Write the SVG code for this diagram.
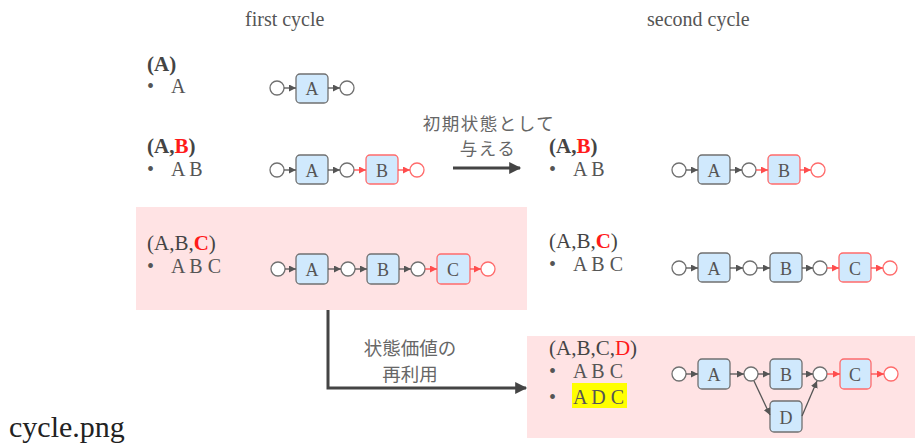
<svg xmlns="http://www.w3.org/2000/svg" width="915" height="443" viewBox="0 0 915 443">
  <style>
    .title { font-family: "Liberation Serif", serif; font-size: 20px; fill: #555; }
    .head { font-family: "Liberation Serif", serif; font-size: 21px; fill: #444; }
    .bold { font-weight: bold; }
    .red { fill: #ff1a1a; }
    .item { font-family: "Liberation Serif", serif; font-size: 20px; fill: #555; }
    .jp { font-family: "Noto Sans CJK JP", sans-serif; font-size: 18.5px; fill: #666; }
    .jp.tight { font-size: 17.5px; letter-spacing: 1.5px; }
    .file { font-family: "Liberation Serif", serif; font-size: 30px; fill: #222; }
    .box { fill: #d0e9fd; stroke: #707070; stroke-width: 1.3; }
    .box.new { stroke: #ff6b6b; }
    .st { fill: #fff; stroke: #707070; stroke-width: 1.3; }
    .st.new { stroke: #ff6b6b; }
    .lbl { font-family: "Liberation Serif", serif; font-size: 18px; fill: #555; text-anchor: middle; }
    .e { stroke: #555; stroke-width: 1.3; fill: none; marker-end: url(#ah); }
    .e.new { stroke: #ff4d4d; marker-end: url(#ahr); }
    .big { stroke: #444; stroke-width: 3; fill: none; marker-end: url(#bh); }
    .panel { fill: #ffe3e4; }
  </style>
  <defs>
    <marker id="ah" viewBox="0 0 8 8" refX="8" refY="4" markerWidth="7" markerHeight="7" markerUnits="userSpaceOnUse" orient="auto">
      <path d="M0,0 L8,4 L0,8 z" fill="#555"/>
    </marker>
    <marker id="ahr" viewBox="0 0 8 8" refX="8" refY="4" markerWidth="7" markerHeight="7" markerUnits="userSpaceOnUse" orient="auto">
      <path d="M0,0 L8,4 L0,8 z" fill="#ff4d4d"/>
    </marker>
    <marker id="bh" viewBox="0 0 10 10" refX="9" refY="5" markerWidth="14" markerHeight="12" markerUnits="userSpaceOnUse" orient="auto">
      <path d="M0,0 L10,5 L0,10 z" fill="#444"/>
    </marker>
  </defs>

  <!-- highlighted panels -->
  <rect class="panel" x="136" y="207" width="391" height="103"/>
  <rect class="panel" x="527" y="336" width="388" height="102"/>

  <!-- column titles -->
  <text class="title" x="245" y="26">first cycle</text>
  <text class="title" x="647" y="26">second cycle</text>

  <!-- left column: sequence lists -->
  <g id="list-a">
    <text class="head bold" x="147" y="71">(A)</text>
    <text class="item" x="147" y="93">•</text>
    <text class="item" x="171" y="93">A</text>
  </g>
  <g id="list-ab">
    <text class="head bold" x="147" y="153">(A,<tspan class="red">B</tspan>)</text>
    <text class="item" x="147" y="176">•</text>
    <text class="item" x="171" y="176">A B</text>
  </g>
  <g id="list-abc">
    <text class="head" x="147" y="250">(A,B,<tspan class="red bold">C</tspan>)</text>
    <text class="item" x="147" y="273">•</text>
    <text class="item" x="171" y="273">A B C</text>
  </g>

  <!-- right column: sequence lists -->
  <g id="list2-ab">
    <text class="head bold" x="549" y="153">(A,<tspan class="red">B</tspan>)</text>
    <text class="item" x="549" y="176">•</text>
    <text class="item" x="573" y="176">A B</text>
  </g>
  <g id="list2-abc">
    <text class="head" x="549" y="248">(A,B,<tspan class="red bold">C</tspan>)</text>
    <text class="item" x="549" y="271">•</text>
    <text class="item" x="573" y="271">A B C</text>
  </g>
  <g id="list2-abcd">
    <text class="head" x="549" y="355">(A,B,C,<tspan class="red">D</tspan>)</text>
    <text class="item" x="549" y="378">•</text>
    <text class="item" x="573" y="378">A B C</text>
    <rect x="572" y="383" width="55" height="25" fill="#ffff00"/>
    <text class="item" x="549" y="404">•</text>
    <text class="item" x="573" y="404">A D C</text>
  </g>

  <!-- transition labels -->
  <g id="label-init">
    <text class="jp tight" x="489" y="130" text-anchor="middle">初期状態として</text>
    <text class="jp tight" x="488" y="155" text-anchor="middle">与える</text>
  </g>
  <g id="label-reuse">
    <text class="jp" x="410" y="355" text-anchor="middle">状態価値の</text>
    <text class="jp" x="410" y="381" text-anchor="middle">再利用</text>
  </g>

  <!-- graph: first cycle, row 1 -->
  <g id="g1">
    <circle class="st" cx="277" cy="88" r="7"/>
    <rect class="box" x="296" y="74" width="32" height="29" rx="4"/>
    <text class="lbl" x="312" y="95">A</text>
    <circle class="st" cx="347" cy="88" r="7"/>
  </g>
  <!-- graph: first cycle, row 2 -->
  <g id="g2">
    <circle class="st" cx="277" cy="170" r="7"/>
    <rect class="box" x="296" y="155" width="32" height="29" rx="4"/>
    <text class="lbl" x="312" y="177">A</text>
    <circle class="st" cx="347" cy="170" r="7"/>
    <rect class="box new" x="366" y="155" width="32" height="29" rx="4"/>
    <text class="lbl" x="382" y="177">B</text>
    <circle class="st new" cx="417" cy="170" r="7"/>
  </g>
  <!-- graph: first cycle, row 3 -->
  <g id="g3">
    <circle class="st" cx="278" cy="269" r="7"/>
    <rect class="box" x="296" y="254" width="32" height="30" rx="4"/>
    <text class="lbl" x="312" y="276">A</text>
    <circle class="st" cx="348" cy="269" r="7"/>
    <rect class="box" x="367" y="254" width="32" height="30" rx="4"/>
    <text class="lbl" x="383" y="276">B</text>
    <circle class="st" cx="418" cy="269" r="7"/>
    <rect class="box new" x="437" y="254" width="33" height="30" rx="4"/>
    <text class="lbl" x="453" y="276">C</text>
    <circle class="st new" cx="488" cy="269" r="7"/>
  </g>
  <!-- graph: second cycle, row 2 -->
  <g id="h2">
    <circle class="st" cx="679" cy="170" r="7"/>
    <rect class="box" x="698" y="155" width="32" height="29" rx="4"/>
    <text class="lbl" x="714" y="177">A</text>
    <circle class="st" cx="749" cy="170" r="7"/>
    <rect class="box new" x="768" y="155" width="32" height="29" rx="4"/>
    <text class="lbl" x="784" y="177">B</text>
    <circle class="st new" cx="818" cy="170" r="7"/>
  </g>
  <!-- graph: second cycle, row 3 -->
  <g id="h3">
    <circle class="st" cx="679" cy="268" r="7"/>
    <rect class="box" x="698" y="253" width="32" height="29" rx="4"/>
    <text class="lbl" x="714" y="275">A</text>
    <circle class="st" cx="750" cy="268" r="7"/>
    <rect class="box" x="770" y="253" width="32" height="29" rx="4"/>
    <text class="lbl" x="786" y="275">B</text>
    <circle class="st" cx="820" cy="268" r="7"/>
    <rect class="box new" x="839" y="253" width="32" height="29" rx="4"/>
    <text class="lbl" x="855" y="275">C</text>
    <circle class="st new" cx="890" cy="268" r="7"/>
  </g>
  <!-- graph: second cycle, row 4 with branch D -->
  <g id="h4">
    <circle class="st" cx="679" cy="374" r="7"/>
    <rect class="box" x="698" y="359" width="32" height="30" rx="4"/>
    <text class="lbl" x="714" y="381">A</text>
    <circle class="st" cx="751" cy="374" r="7"/>
    <rect class="box" x="770" y="359" width="32" height="30" rx="4"/>
    <text class="lbl" x="786" y="381">B</text>
    <circle class="st" cx="820" cy="374" r="7"/>
    <rect class="box new" x="840" y="359" width="31" height="30" rx="4"/>
    <text class="lbl" x="855" y="381">C</text>
    <circle class="st new" cx="891" cy="374" r="7"/>
    <rect class="box" x="770" y="401" width="32" height="31" rx="4"/>
    <text class="lbl" x="786" y="424">D</text>
  </g>

  <!-- connectors -->
  <g id="connectors">
    <!-- g1 -->
    <line class="e" x1="284" y1="88" x2="296" y2="88"/>
    <line class="e" x1="328" y1="88" x2="340" y2="88"/>
    <!-- g2 -->
    <line class="e" x1="284" y1="170" x2="296" y2="170"/>
    <line class="e" x1="328" y1="170" x2="340" y2="170"/>
    <line class="e new" x1="354" y1="170" x2="366" y2="170"/>
    <line class="e new" x1="398" y1="170" x2="410" y2="170"/>
    <!-- g3 -->
    <line class="e" x1="285" y1="269" x2="296" y2="269"/>
    <line class="e" x1="328" y1="269" x2="341" y2="269"/>
    <line class="e" x1="355" y1="269" x2="367" y2="269"/>
    <line class="e" x1="399" y1="269" x2="411" y2="269"/>
    <line class="e new" x1="425" y1="269" x2="437" y2="269"/>
    <line class="e new" x1="470" y1="269" x2="481" y2="269"/>
    <!-- h2 -->
    <line class="e" x1="686" y1="170" x2="698" y2="170"/>
    <line class="e" x1="730" y1="170" x2="742" y2="170"/>
    <line class="e new" x1="756" y1="170" x2="768" y2="170"/>
    <line class="e new" x1="800" y1="170" x2="811" y2="170"/>
    <!-- h3 -->
    <line class="e" x1="686" y1="268" x2="698" y2="268"/>
    <line class="e" x1="730" y1="268" x2="743" y2="268"/>
    <line class="e" x1="757" y1="268" x2="770" y2="268"/>
    <line class="e" x1="802" y1="268" x2="813" y2="268"/>
    <line class="e new" x1="827" y1="268" x2="839" y2="268"/>
    <line class="e new" x1="871" y1="268" x2="883" y2="268"/>
    <!-- h4 -->
    <line class="e" x1="686" y1="374" x2="698" y2="374"/>
    <line class="e" x1="730" y1="374" x2="744" y2="374"/>
    <line class="e" x1="758" y1="374" x2="770" y2="374"/>
    <line class="e" x1="802" y1="374" x2="813" y2="374"/>
    <line class="e new" x1="827" y1="374" x2="840" y2="374"/>
    <line class="e new" x1="871" y1="374" x2="884" y2="374"/>
    <line class="e" x1="754" y1="381" x2="770" y2="415"/>
    <line class="e" x1="802" y1="416" x2="817" y2="381"/>
    <!-- transitions between cycles -->
    <line class="big" x1="453" y1="168" x2="520" y2="168"/>
    <polyline class="big" points="328,310 328,388 526,388"/>
  </g>

  <text class="file" x="9" y="437">cycle.png</text>
</svg>
